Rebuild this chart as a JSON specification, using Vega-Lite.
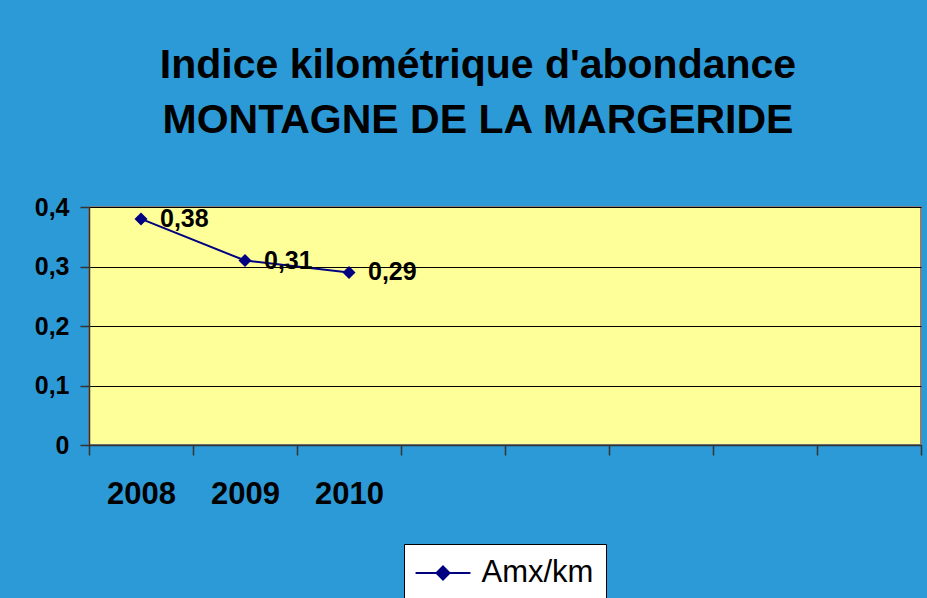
{
  "$schema": "https://vega.github.io/schema/vega-lite/v6.json",
  "width": 832,
  "height": 238,
  "padding": {"left": 34, "top": 45, "right": 5, "bottom": 0},
  "background": "#2D9AD8",
  "title": {
    "text": ["Indice kilométrique d'abondance ", "MONTAGNE DE LA MARGERIDE"],
    "font": "Liberation Sans",
    "fontSize": 41,
    "fontWeight": "bold",
    "color": "#000000",
    "lineHeight": 55,
    "anchor": "middle",
    "frame": "bounds",
    "offset": 53
  },
  "data": {
    "values": [
      {"annee": "2008", "valeur": 0.38, "serie": "Amx/km"},
      {"annee": "2009", "valeur": 0.31, "serie": "Amx/km"},
      {"annee": "2010", "valeur": 0.29, "serie": "Amx/km"}
    ]
  },
  "encoding": {
    "x": {
      "field": "annee",
      "type": "nominal",
      "scale": {
        "type": "band",
        "domain": ["2008", "2009", "2010", " ", "  ", "   ", "    ", "     "],
        "paddingInner": 0,
        "paddingOuter": 0
      },
      "axis": {
        "title": null,
        "tickBand": "extent",
        "ticks": true,
        "tickSize": 10,
        "tickColor": "#333333",
        "tickWidth": 1.5,
        "domainColor": "#333333",
        "domainWidth": 1.5,
        "labelFont": "Liberation Sans",
        "labelFontSize": 31,
        "labelFontWeight": "bold",
        "labelColor": "#000000",
        "labelPadding": 24,
        "labelAngle": 0,
        "grid": false
      }
    },
    "y": {
      "field": "valeur",
      "type": "quantitative",
      "scale": {"domain": [0, 0.4], "nice": false},
      "axis": {
        "title": null,
        "values": [0, 0.1, 0.2, 0.3, 0.4],
        "format": "~g",
        "tickSize": 9,
        "tickColor": "#333333",
        "tickWidth": 1.5,
        "domainColor": "#333333",
        "domainWidth": 1.5,
        "labelFont": "Liberation Sans",
        "labelFontSize": 25,
        "labelFontWeight": "bold",
        "labelColor": "#000000",
        "labelPadding": 11,
        "grid": true,
        "gridColor": "#000000",
        "gridWidth": 1
      }
    }
  },
  "layer": [
    {
      "mark": {
        "type": "line",
        "strokeWidth": 2,
        "point": {"shape": "diamond", "size": 170, "filled": true}
      },
      "encoding": {
        "color": {
          "field": "serie",
          "type": "nominal",
          "scale": {"range": ["#000080"]},
          "legend": {
            "title": null,
            "orient": "bottom",
            "offset": 35,
            "padding": 12.5,
            "fillColor": "#FFFFFF",
            "strokeColor": "#000000",
            "labelFont": "Liberation Sans",
            "labelFontSize": 31,
            "labelColor": "#000000",
            "symbolType": "M-1.77,0L1.77,0M0,-0.42L0.42,0L0,0.42L-0.42,0Z",
            "symbolSize": 961,
            "symbolOffset": 10,
            "labelOffset": 22,
            "symbolStrokeWidth": 2,
            "symbolFillColor": "#000080",
            "symbolStrokeColor": "#000080"
          }
        }
      }
    },
    {
      "mark": {
        "type": "text",
        "align": "left",
        "baseline": "middle",
        "dx": 19,
        "font": "Liberation Sans",
        "fontSize": 25,
        "fontWeight": "bold",
        "color": "#000000"
      },
      "encoding": {
        "text": {"field": "valeur", "type": "quantitative", "format": ".2f"}
      }
    }
  ],
  "config": {
    "locale": {
      "number": {"decimal": ",", "thousands": " ", "grouping": [3], "currency": ["", " €"]}
    },
    "view": {"fill": "#FFFF99", "stroke": "#808080", "strokeWidth": 2},
    "legend": {"layout": {"bottom": {"anchor": "middle"}}}
  }
}
